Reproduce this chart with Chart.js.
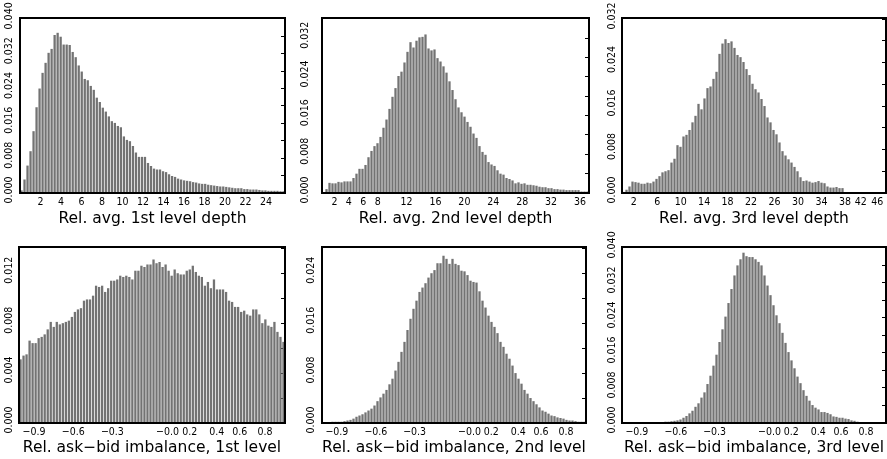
<!DOCTYPE html>
<html><head><meta charset="utf-8">
<script src="https://cdn.jsdelivr.net/npm/chart.js@4.4.1/dist/chart.umd.min.js"></script>
<style>
html,body{margin:0;padding:0;background:#fff;width:887px;height:459px;overflow:hidden;}
canvas{position:absolute;}
</style></head><body>
<canvas id="c1"></canvas><canvas id="c2"></canvas><canvas id="c3"></canvas>
<canvas id="c4"></canvas><canvas id="c5"></canvas><canvas id="c6"></canvas>
<script>
// ---------- data (relative frequencies per bin) ----------
const depth1 = [0.0006,0.0031,0.0063,0.0096,0.0142,0.0197,0.0240,0.0276,0.0299,0.0322,
0.0331,0.0363,0.0368,0.0359,0.0341,0.0341,0.0340,0.0324,0.0312,0.0293,
0.0279,0.0262,0.0259,0.0246,0.0237,0.0219,0.0209,0.0196,0.0187,0.0176,
0.0165,0.0161,0.0154,0.0151,0.0130,0.0122,0.0119,0.0108,0.0093,0.0083,
0.0083,0.0083,0.0069,0.0062,0.0056,0.0054,0.0054,0.0050,0.0048,0.0043,
0.0039,0.0037,0.0033,0.0031,0.0029,0.0028,0.0027,0.0025,0.0024,0.0022,
0.0021,0.0021,0.0019,0.0018,0.0017,0.0016,0.0015,0.0015,0.0014,0.0013,
0.0012,0.0011,0.0011,0.0011,0.0009,0.0009,0.0008,0.0008,0.0008,0.0007,
0.0006,0.0006,0.0005,0.0005,0.0005,0.0005,0.0004,0.0004];
const depth2 = [0.0001,0.0008,0.0021,0.0020,0.0020,0.0023,0.0022,0.0024,0.0024,0.0024,
0.0031,0.0040,0.0050,0.0050,0.0058,0.0074,0.0087,0.0097,0.0103,0.0116,
0.0135,0.0152,0.0174,0.0199,0.0217,0.0242,0.0251,0.0270,0.0292,0.0312,
0.0301,0.0315,0.0322,0.0323,0.0328,0.0299,0.0295,0.0297,0.0279,0.0272,
0.0262,0.0249,0.0231,0.0213,0.0194,0.0177,0.0167,0.0158,0.0147,0.0137,
0.0123,0.0114,0.0097,0.0085,0.0079,0.0064,0.0059,0.0056,0.0047,0.0040,
0.0038,0.0031,0.0029,0.0026,0.0020,0.0022,0.0019,0.0020,0.0017,0.0017,
0.0016,0.0015,0.0013,0.0012,0.0012,0.0010,0.0010,0.0008,0.0008,0.0007,
0.0007,0.0006,0.0006,0.0006,0.0006,0.0006,0.0003,0.0003,0.0003];
const depth3 = [0.0002,0.0006,0.0012,0.0021,0.0020,0.0019,0.0017,0.0017,0.0019,0.0018,
0.0021,0.0026,0.0031,0.0038,0.0040,0.0042,0.0056,0.0063,0.0088,0.0085,
0.0104,0.0107,0.0116,0.0130,0.0142,0.0164,0.0154,0.0174,0.0193,0.0196,
0.0210,0.0223,0.0256,0.0275,0.0283,0.0276,0.0279,0.0267,0.0254,0.0250,
0.0241,0.0228,0.0217,0.0201,0.0191,0.0185,0.0173,0.0160,0.0139,0.0130,
0.0116,0.0108,0.0093,0.0077,0.0069,0.0062,0.0056,0.0048,0.0040,0.0029,
0.0022,0.0023,0.0021,0.0019,0.0020,0.0022,0.0019,0.0018,0.0012,0.0010,
0.0010,0.0011,0.0009,0.0009];
const imb1 = [0.0051,0.0054,0.0055,0.0066,0.0064,0.0064,0.0068,0.0069,0.0071,0.0075,
0.0081,0.0077,0.0081,0.0079,0.0080,0.0081,0.0082,0.0085,0.0089,0.0091,
0.0092,0.0098,0.0099,0.0099,0.0102,0.0110,0.0109,0.0110,0.0105,0.0108,
0.0114,0.0114,0.0115,0.0118,0.0117,0.0118,0.0117,0.0115,0.0122,0.0122,
0.0126,0.0125,0.0127,0.0127,0.0131,0.0128,0.0129,0.0125,0.0127,0.0122,
0.0118,0.0123,0.0120,0.0119,0.0119,0.0122,0.0123,0.0126,0.0121,0.0118,
0.0117,0.0110,0.0113,0.0108,0.0115,0.0107,0.0107,0.0107,0.0105,0.0098,
0.0097,0.0093,0.0093,0.0089,0.0090,0.0087,0.0086,0.0091,0.0091,0.0087,
0.0080,0.0083,0.0078,0.0077,0.0081,0.0073,0.0069,0.0065];
const imb2 = [0.0001,0.0001,0.0001,0.0002,0.0002,0.0002,0.0002,0.0003,0.0004,0.0005,
0.0007,0.0010,0.0012,0.0014,0.0017,0.0020,0.0023,0.0028,0.0035,0.0041,
0.0047,0.0053,0.0062,0.0071,0.0084,0.0098,0.0114,0.0130,0.0149,0.0167,
0.0183,0.0196,0.0210,0.0217,0.0224,0.0233,0.0240,0.0245,0.0256,0.0256,
0.0268,0.0263,0.0255,0.0263,0.0255,0.0253,0.0244,0.0243,0.0237,0.0228,
0.0226,0.0225,0.0211,0.0196,0.0185,0.0172,0.0162,0.0154,0.0144,0.0130,
0.0122,0.0111,0.0103,0.0092,0.0080,0.0071,0.0063,0.0053,0.0047,0.0040,
0.0035,0.0030,0.0025,0.0020,0.0018,0.0015,0.0012,0.0011,0.0009,0.0008,
0.0007,0.0005,0.0004,0.0004,0.0003,0.0002,0.0002,0.0002];
const imb3 = [0.0002,0.0002,0.0002,0.0002,0.0002,0.0002,0.0002,0.0002,0.0002,0.0002,
0.0002,0.0002,0.0002,0.0002,0.0003,0.0003,0.0004,0.0005,0.0006,0.0008,
0.0012,0.0016,0.0022,0.0028,0.0037,0.0045,0.0058,0.0070,0.0089,0.0108,
0.0131,0.0156,0.0185,0.0214,0.0243,0.0274,0.0306,0.0337,0.0360,0.0374,
0.0389,0.0381,0.0379,0.0379,0.0374,0.0368,0.0360,0.0337,0.0314,0.0292,
0.0269,0.0246,0.0228,0.0206,0.0183,0.0162,0.0143,0.0125,0.0106,0.0091,
0.0075,0.0062,0.0051,0.0041,0.0035,0.0031,0.0025,0.0025,0.0023,0.0020,
0.0015,0.0014,0.0012,0.0012,0.0010,0.0009,0.0006,0.0005,0.0003,0.0002,
0.0002,0.0002,0.0002,0.0002,0.0002,0.0002,0.0002,0.0002];

// ---------- x tick values and labels ----------
const depth1TickValues = [2,4,6,8,10,12,14,16,18,20,22,24];
const depth1TickLabels = ['2','4','6','8','10','12','14','16','18','20','22','24'];
const depth2TickValues = [2,4,6,8,12,16,20,24,28,32,36];
const depth2TickLabels = ['2','4','6','8','12','16','20','24','28','32','36'];
const depth3TickValues = [2,6,10,14,18,22,26,30,34,38,40.7,43.5];
const depth3TickLabels = ['2','6','10','14','18','22','26','30','34','38','42','46'];
const imbTickValues = [-0.887,-0.592,-0.298,0.117,0.283,0.487,0.660,0.849];
const imbTickLabels = ['\u22120.9','\u22120.6','\u22120.3','\u22120.0','0.2','0.4','0.6','0.8'];

// ---------- y tick values ----------
const yTicks040 = [0,0.008,0.016,0.024,0.032,0.040];
const yTicks032 = [0,0.008,0.016,0.024,0.032];
const yTicks024 = [0,0.008,0.016,0.024];
const yTicks012 = [0,0.004,0.008,0.012];
const yMinor004 = [0.004,0.008,0.012,0.016,0.020,0.024,0.028,0.032,0.036,0.040];
const yMinor002 = [0.002,0.004,0.006,0.008,0.010,0.012,0.014];

const titles = ['Rel. avg. 1st level depth','Rel. avg. 2nd level depth','Rel. avg. 3rd level depth',
  'Rel. ask\u2212bid imbalance, 1st level','Rel. ask\u2212bid imbalance, 2nd level','Rel. ask\u2212bid imbalance, 3rd level'];

// ---------- panel layout ----------
const panels = [
  {id:'c1', left:0,   top:0,   w:296, h:230, fL:20,  fR:285, fT:18,  fB:193, data:depth1, slots:88, xMin:0,    xMax:25.85, tv:depth1TickValues, tl:depth1TickLabels, yMax:0.0402, yt:yTicks040, ym:yMinor004, lab:8,  title:titles[0]},
  {id:'c2', left:296, top:0,   w:296, h:230, fL:322, fR:589, fT:18,  fB:193, data:depth2, slots:89, xMin:0.28, xMax:37.26, tv:depth2TickValues, tl:depth2TickLabels, yMax:0.0362, yt:yTicks032, ym:yMinor004, lab:14, title:titles[1]},
  {id:'c3', left:592, top:0,   w:295, h:230, fL:622, fR:886, fT:18,  fB:193, data:depth3, slots:88, xMin:0,    xMax:45.0,  tv:depth3TickValues, tl:depth3TickLabels, yMax:0.0322, yt:yTicks032, ym:yMinor004, lab:7,  title:titles[2]},
  {id:'c4', left:0,   top:230, w:296, h:229, fL:19,  fR:285, fT:247, fB:423, data:imb1,   slots:88, xMin:-1,   xMax:1,     tv:imbTickValues,    tl:imbTickLabels,    yMax:0.0141, yt:yTicks012, ym:yMinor002, lab:7,  title:titles[3]},
  {id:'c5', left:296, top:230, w:296, h:229, fL:322, fR:586, fT:247, fB:423, data:imb2,   slots:88, xMin:-1,   xMax:1,     tv:imbTickValues,    tl:imbTickLabels,    yMax:0.0282, yt:yTicks024, ym:yMinor004, lab:8,  title:titles[4]},
  {id:'c6', left:592, top:230, w:295, h:229, fL:622, fR:886, fT:247, fB:423, data:imb3,   slots:88, xMin:-1,   xMax:1,     tv:imbTickValues,    tl:imbTickLabels,    yMax:0.0402, yt:yTicks040, ym:yMinor004, lab:7,  title:titles[5]}
];

const framePlugin = {
  id:'frame',
  afterDraw(chart){
    const {ctx, chartArea:a} = chart;
    ctx.save();
    ctx.strokeStyle = '#000';
    ctx.lineWidth = 2;
    ctx.strokeRect(a.left, a.top, a.right - a.left, a.bottom - a.top);
    ctx.restore();
  }
};

const TICK_FONT = {family:"'Liberation Sans Narrow', 'DejaVu Sans Condensed', 'Liberation Sans'", size:10.5};
const TITLE_FONT = {family:'DejaVu Sans', size:15.5};

panels.forEach(p => {
  const cv = document.getElementById(p.id);
  cv.width = p.w; cv.height = p.h;
  cv.style.left = p.left + 'px'; cv.style.top = p.top + 'px';
  cv.style.width = p.w + 'px'; cv.style.height = p.h + 'px';
  const binW = (p.xMax - p.xMin) / p.slots;
  const labels = [];
  for (let i = 0; i < p.slots; i++) labels.push((p.xMin + (i + 0.5) * binW).toFixed(3));
  const leftW = p.fL - p.left;
  const rightPad = (p.left + p.w) - p.fR;
  const topPad = p.fT - p.top;
  const bottomH = (p.top + p.h) - p.fB;
  new Chart(cv.getContext('2d'), {
    type:'bar',
    data:{labels:labels, datasets:[{data:p.data, xAxisID:'x', yAxisID:'y', backgroundColor:'#737373', borderWidth:0, barPercentage:0.76, categoryPercentage:1}]},
    options:{
      responsive:false, animation:false, devicePixelRatio:1,
      layout:{padding:{left:0, top:topPad, right:rightPad, bottom:0}},
      plugins:{legend:{display:false}, tooltip:{enabled:false}},
      scales:{
        x:{type:'category', display:false, offset:true, grid:{display:false}},
        xv:{type:'linear', position:'bottom', min:p.xMin, max:p.xMax, offset:false,
          afterBuildTicks:s => { s.ticks = p.tv.map(v => ({value:v})); },
          ticks:{autoSkip:false, minRotation:0, maxRotation:0, padding:3, color:'#000', font:TICK_FONT,
            callback:(v, i) => p.tl[i]},
          grid:{display:false, drawTicks:false, offset:false}, border:{display:false},
          title:{display:true, text:p.title, color:'#000', font:TITLE_FONT, padding:{top:0, bottom:2}},
          afterFit:s => { s.height = bottomH; }
        },
        y:{type:'linear', position:'left', min:0, max:p.yMax,
          afterBuildTicks:s => { s.ticks = p.yt.map(v => ({value:v})); },
          ticks:{autoSkip:false, minRotation:90, maxRotation:90, crossAlign:'center', padding:p.lab - 11, labelOffset:-3, color:'#000', font:TICK_FONT,
            callback:v => Number(v).toFixed(3)},
          grid:{display:false, drawTicks:false}, border:{display:false},
          afterFit:s => { s.width = leftW; }
        },
        y2:{type:'linear', position:{xv:p.xMax}, min:0, max:p.yMax,
          afterBuildTicks:s => { s.ticks = p.ym.filter(v => v < p.yMax).map(v => ({value:v})); },
          ticks:{display:false},
          grid:{display:true, drawOnChartArea:false, drawTicks:true, tickLength:4, color:'#000', lineWidth:1},
          border:{display:false}
        }
      }
    },
    plugins:[framePlugin]
  });
});
</script>
</body></html>
